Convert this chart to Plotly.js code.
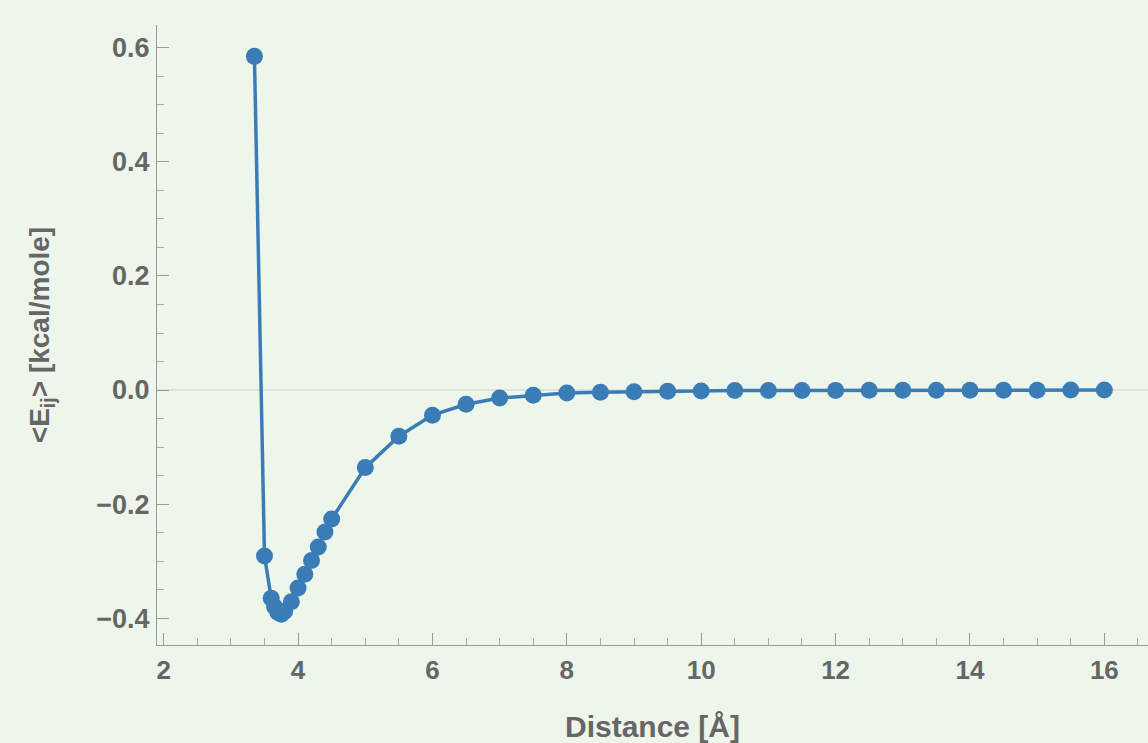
<!DOCTYPE html>
<html><head><meta charset="utf-8">
<script src="https://cdn.plot.ly/plotly-3.0.1.min.js"></script>
<style>html,body{margin:0;padding:0;background:#eef5ea;}</style>
</head><body>
<div id="chart" style="width:1148px;height:743px;"></div>
<script>
const distance = [3.35, 3.5, 3.6, 3.65, 3.7, 3.75, 3.8, 3.9, 4.0, 4.1, 4.2, 4.3, 4.4, 4.5, 5.0, 5.5, 6.0, 6.5, 7.0, 7.5, 8.0, 8.5, 9.0, 9.5, 10.0, 10.5, 11.0, 11.5, 12.0, 12.5, 13.0, 13.5, 14.0, 14.5, 15.0, 15.5, 16.0];
const energy = [0.585, -0.291, -0.365, -0.38, -0.39, -0.393, -0.388, -0.371, -0.347, -0.323, -0.299, -0.275, -0.249, -0.226, -0.136, -0.081, -0.044, -0.025, -0.014, -0.009, -0.005, -0.004, -0.003, -0.002, -0.0015, -0.001, -0.001, -0.0008, -0.0006, -0.0005, -0.0004, -0.0003, -0.0003, -0.0002, -0.0002, -0.0001, -0.0001];
const xTicks = [2, 4, 6, 8, 10, 12, 14, 16];
const yTicks = [-0.4, -0.2, 0.0, 0.2, 0.4, 0.6];
const yTickText = ["\u22120.4", "\u22120.2", "0.0", "0.2", "0.4", "0.6"];

const trace = {
  x: distance, y: energy, type: 'scatter', mode: 'lines+markers',
  line: {color: '#3a7db6', width: 3.5},
  marker: {color: '#3a7db6', size: 17},
  hoverinfo: 'x+y'
};
const fam = 'Liberation Sans, Arial, sans-serif';
const layout = {
  width: 1148, height: 743,
  paper_bgcolor: '#eef5ea', plot_bgcolor: '#eef5ea',
  margin: {l: 157, r: 0, t: 25, b: 98},
  showlegend: false,
  xaxis: {
    range: [1.9, 16.65], tickvals: xTicks, ticktext: xTicks.map(String),
    showgrid: false, zeroline: false, showline: true, linecolor: '#999999', linewidth: 1,
    ticks: 'inside', ticklen: 12, tickcolor: '#999999', tickwidth: 1,
    minor: {dtick: 0.5, tick0: 2, ticks: 'inside', ticklen: 7, tickcolor: '#aaaaaa', showgrid: false},
    tickfont: {family: fam, size: 26, color: '#666666', weight: 'bold'},
    ticklabelstandoff: 2,
    title: {text: 'Distance [Å]', font: {family: fam, size: 30, color: '#666666', weight: 'bold'}, standoff: 32},
    automargin: false
  },
  yaxis: {
    range: [-0.447, 0.64], tickvals: yTicks, ticktext: yTickText,
    showgrid: false, zeroline: true, zerolinecolor: '#dde3da', zerolinewidth: 1.5,
    showline: true, linecolor: '#999999', linewidth: 1,
    ticks: 'inside', ticklen: 12, tickcolor: '#999999', tickwidth: 1,
    minor: {dtick: 0.05, tick0: 0, ticks: 'inside', ticklen: 7, tickcolor: '#aaaaaa', showgrid: false},
    tickfont: {family: fam, size: 27, color: '#666666', weight: 'bold'},
    ticklabelstandoff: 1,
    title: {text: '&lt;E<sub>ij</sub>&gt; [kcal/mole]', font: {family: fam, size: 28, color: '#666666', weight: 'bold'}, standoff: 38},
    automargin: false
  }
};
Plotly.newPlot('chart', [trace], layout, {displayModeBar: false, staticPlot: true});
</script>
</body></html>
